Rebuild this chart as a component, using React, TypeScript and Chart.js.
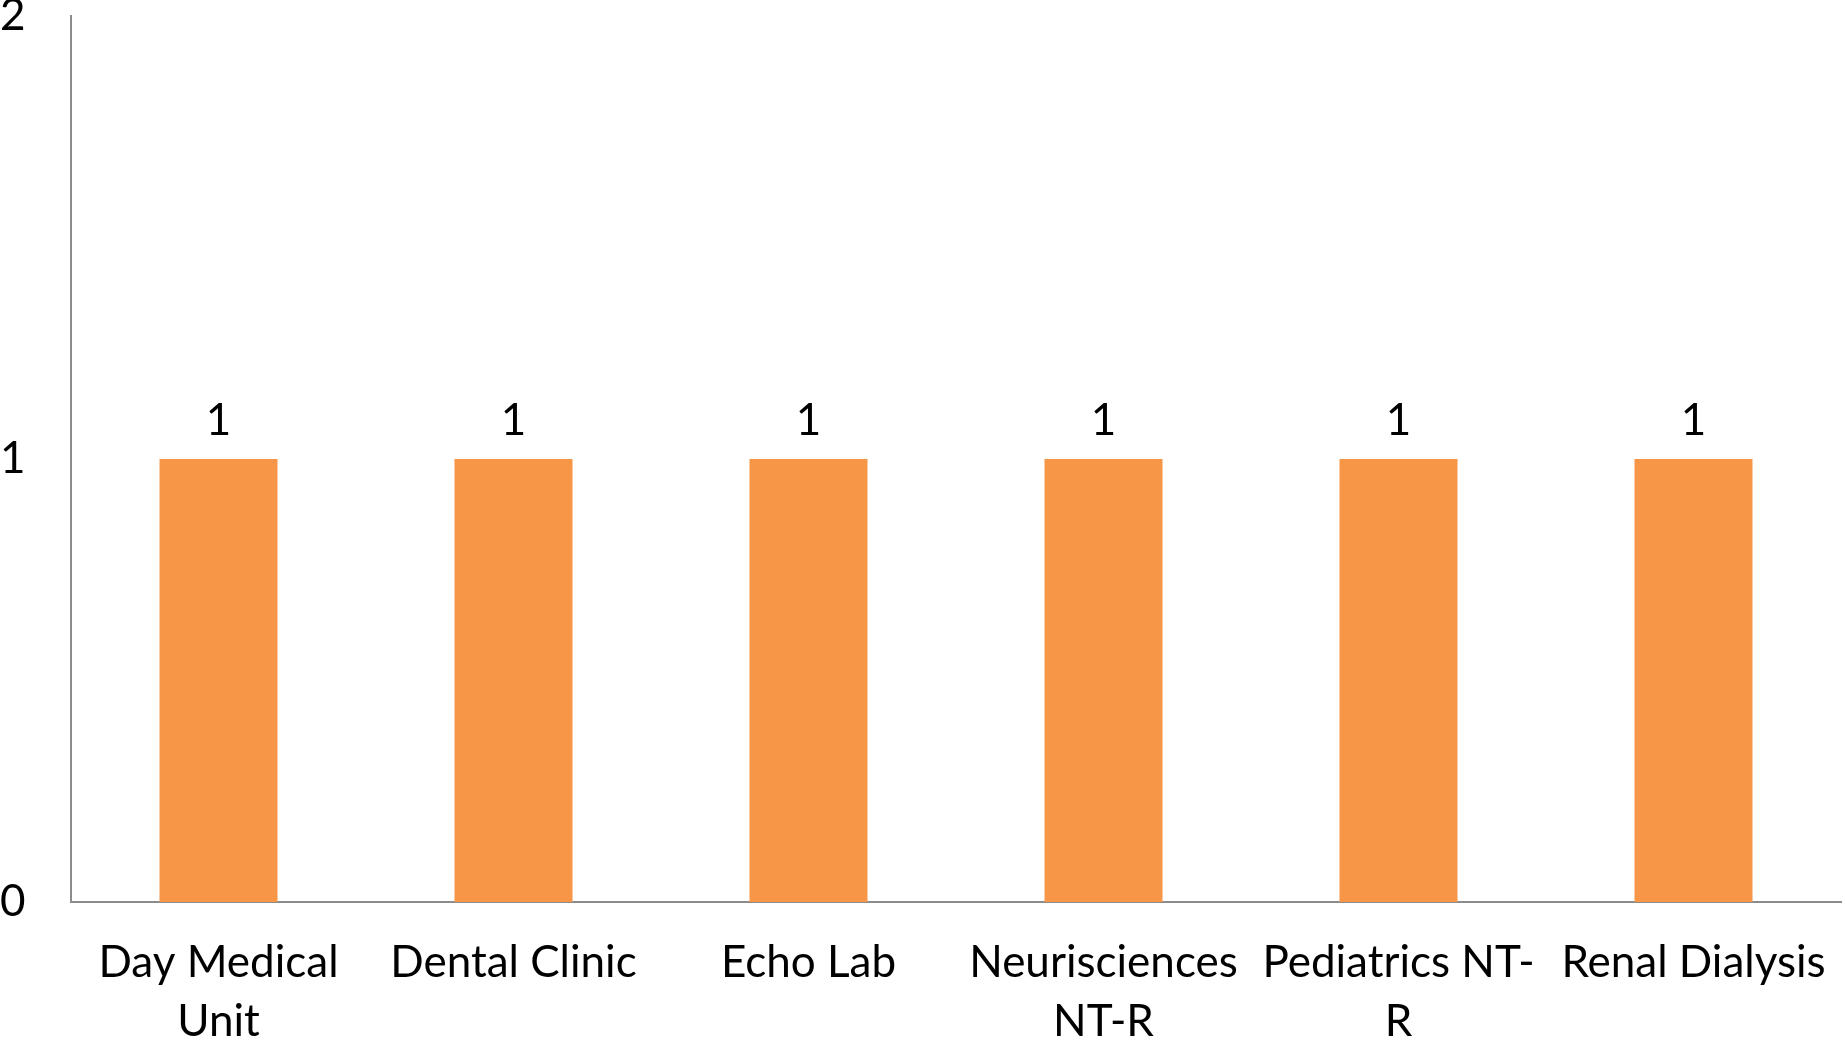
import React, { useEffect, useRef } from "react";
import { Chart, registerables } from "chart.js";

Chart.register(...registerables);

const categories: (string | string[])[] = [
  ["Day Medical", "Unit"],
  "Dental Clinic",
  "Echo Lab",
  ["Neurisciences", "NT-R"],
  ["Pediatrics NT-", "R"],
  "Renal Dialysis",
];
const values = [1, 1, 1, 1, 1, 1];
const yMin = 0;
const yMax = 2;
const yStep = 1;

const FONT = "Lato, 'Open Sans', sans-serif";
const FONT_SIZE = 44;

const valueLabelPlugin = {
  id: "valueLabels",
  afterDatasetsDraw(chart: any) {
    const ctx = chart.ctx;
    ctx.save();
    ctx.font = `${FONT_SIZE}px ${FONT}`;
    ctx.fillStyle = "#000";
    ctx.textAlign = "center";
    ctx.textBaseline = "alphabetic";
    chart.data.datasets.forEach((ds: any, di: number) => {
      const meta = chart.getDatasetMeta(di);
      meta.data.forEach((bar: any, i: number) => {
        ctx.fillText(String(ds.data[i]), bar.x, bar.y - 24);
      });
    });
    ctx.restore();
  },
};

const zeroPad = (scale: any) => {
  scale.paddingTop = 0;
  scale.paddingBottom = 0;
  scale.paddingLeft = 0;
  scale.paddingRight = 0;
};

export default function App() {
  const ref = useRef<HTMLCanvasElement | null>(null);
  useEffect(() => {
    document.body.style.margin = "0";
    const canvas = ref.current!;
    const chart = new Chart(canvas, {
      type: "bar",
      data: {
        labels: categories,
        datasets: [
          {
            data: values,
            backgroundColor: "#F79646",
            borderWidth: 0,
            barPercentage: 0.8,
            categoryPercentage: 0.5,
          },
        ],
      },
      options: {
        animation: false,
        responsive: false,
        layout: { padding: { top: 16, right: 4, left: 0, bottom: 0 } },
        plugins: { legend: { display: false }, tooltip: { enabled: false } },
        scales: {
          x: {
            grid: { display: false, drawTicks: false },
            border: { display: true, color: "#8c8c8c", width: 2 },
            ticks: {
              autoSkip: false,
              maxRotation: 0,
              minRotation: 0,
              color: "#000",
              padding: 31,
              font: { family: FONT, size: FONT_SIZE, lineHeight: 1.34 },
            },
            afterFit: (scale: any) => {
              scale.height = 142;
              zeroPad(scale);
            },
          },
          y: {
            min: yMin,
            max: yMax,
            grid: { display: false, drawTicks: false },
            border: { display: true, color: "#8c8c8c", width: 2 },
            ticks: {
              stepSize: yStep,
              color: "#000",
              crossAlign: "far",
              padding: 10,
              font: { family: FONT, size: FONT_SIZE },
            },
            afterFit: (scale: any) => {
              scale.width = 71;
              zeroPad(scale);
            },
          },
        },
      },
      plugins: [valueLabelPlugin],
    });
    return () => chart.destroy();
  }, []);
  return (
    <div style={{ width: 1845, height: 1044 }}>
      <canvas ref={ref} width={1845} height={1044} style={{ display: "block" }} />
    </div>
  );
}
